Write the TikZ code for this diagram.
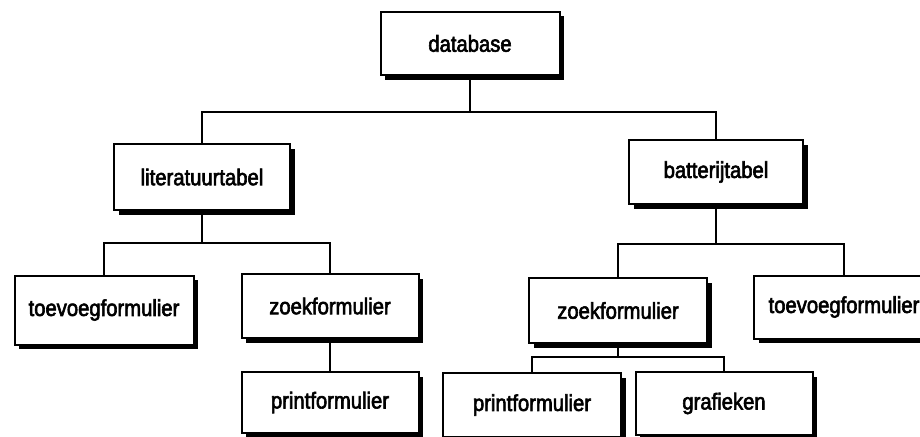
\documentclass[tikz,border=0pt]{standalone}
\usepackage{fontspec}
\setmainfont{Liberation Sans}
\newfontfamily\boxfont[FakeStretch=0.88,FakeBold=2.6]{Liberation Sans}
\usetikzlibrary{shadows}
\begin{document}
\begin{tikzpicture}[x=1pt,y=-1pt,
  box/.style={draw=black, line width=2pt, fill=white, rectangle,
    inner sep=0pt, minimum height=64pt, minimum width=177pt,
    font=\boxfont\fontsize{23}{26}\selectfont,
    general shadow={fill=black, shadow xshift=4.5pt, shadow yshift=-4.5pt}},
  conn/.style={draw=black, line width=1.3pt}]
\useasboundingbox (0,0) rectangle (920,436);
\clip (0,0) rectangle (920,436);
\node[box, minimum width=179pt, minimum height=63pt] (db) at (470,43.5) {database};
\node[box, minimum width=176pt, minimum height=66pt] (lit) at (202,177) {literatuurtabel};
\node[box, minimum width=174pt, minimum height=64pt] (bat) at (716,172) {batterijtabel};
\node[box, minimum width=179pt, minimum height=69pt] (toeL) at (104,310) {toevoegformulier};
\node[box, minimum width=177pt, minimum height=64pt] (zoekL) at (330,306) {zoekformulier};
\node[box, minimum width=177pt, minimum height=61pt] (printL) at (330,402.5) {printformulier};
\node[box, minimum width=178pt, minimum height=65pt] (zoekR) at (618,310.5) {zoekformulier};
\node[box, minimum width=180pt, minimum height=63pt] (toeR) at (844,307) {toevoegformulier};
\node[box, minimum width=178pt, minimum height=64pt] (printR) at (532,405) {printformulier};
\node[box, minimum width=177pt, minimum height=63pt] (graf) at (724,403.5) {grafieken};
\coordinate (j1) at (470,112);
\coordinate (j2) at (202,243);
\coordinate (j3) at (716,244);
\coordinate (j4) at (618,357);
\draw[conn] (db.south) -- (j1);
\draw[conn] (lit.north) |- (j1) -| (bat.north);
\draw[conn] (lit.south) -- (j2);
\draw[conn] (toeL.north) |- (j2) -| (zoekL.north);
\draw[conn] (zoekL.south) -- (printL.north);
\draw[conn] (bat.south) -- (j3);
\draw[conn] (zoekR.north) |- (j3) -| (toeR.north);
\draw[conn] (zoekR.south) -- (j4);
\draw[conn] (printR.north) |- (j4) -| (graf.north);
\end{tikzpicture}
\end{document}
